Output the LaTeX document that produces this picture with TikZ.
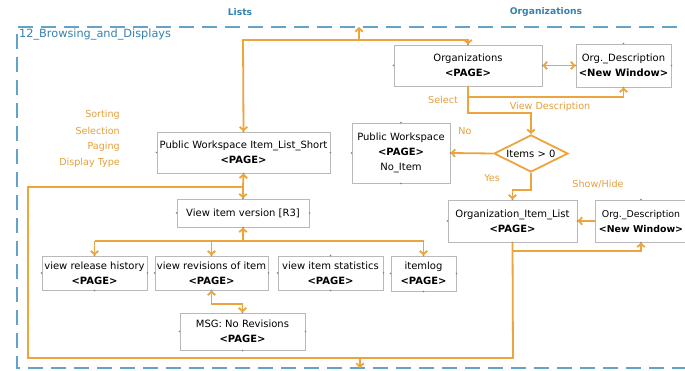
\documentclass[tikz,border=0pt]{standalone}
\usepackage{fontspec}
\setmainfont{DejaVu Sans}
\usetikzlibrary{arrows.meta,shapes.geometric}
\definecolor{ora}{RGB}{236,165,60}
\definecolor{lab}{RGB}{228,160,62}
\definecolor{frm}{RGB}{100,162,198}
\definecolor{ttl}{RGB}{55,130,175}
\definecolor{bdr}{RGB}{185,185,185}
\begin{document}
\begin{tikzpicture}[x=1pt,y=-1pt,
  font=\fontsize{10}{15}\selectfont,
  box/.style={draw=bdr, line width=0.9pt, fill=white, align=center, inner sep=1pt},
  con/.style={draw=ora, line width=1.8pt},
  arr/.style={con, -{Straight Barb[length=3.5pt,width=7.5pt]}},
  darr/.style={con, {Straight Barb[length=3.5pt,width=7.5pt]}-{Straight Barb[length=3.5pt,width=7.5pt]}},
  lbl/.style={text=lab, font=\fontsize{9.6}{10}\selectfont, inner sep=0pt},
  hdr/.style={text=ttl, font=\fontsize{9.2}{10}\bfseries\selectfont, inner sep=0pt}]
\useasboundingbox (0,0) rectangle (685,371);
\fill[white] (0,0) rectangle (685,371);
% frame
\draw[frm, line width=1.6pt, dash pattern=on 15pt off 8pt] (700,27) -- (17,27) -- (17,368) -- (700,368);
\node[hdr] (hlists) at (240,12) {Lists};
\node[hdr] (horgs) at (546,12) {Organizations};
\node[text=ttl, anchor=west, inner sep=0pt, font=\fontsize{11.3}{12}\selectfont] (title) at (19,35) {12\_Browsing\_and\_Displays};
% boxes
\node[box, minimum width=148pt, minimum height=41pt] (org) at (468,65.5) {Organizations\\\textbf{<PAGE>}};
\node[box, minimum width=95pt, minimum height=43pt] (orgdesc) at (623.5,65.5) {Org.\_Description\\\textbf{<New Window>}};
\node[box, minimum width=98pt, minimum height=60pt] (nopage) at (401,153) {Public Workspace\\\textbf{<PAGE>}\\No\_Item};
\node[draw=ora, line width=1.8pt, diamond, aspect=2, inner sep=0pt, minimum width=74pt, minimum height=37pt, fill=white] (dia) at (531,153.5) {Items > 0};
\node[box, minimum width=173pt, minimum height=41pt] (short) at (243.5,152.5) {Public Workspace Item\_List\_Short\\\textbf{<PAGE>}};
\node[box, minimum width=129pt, minimum height=42pt] (oil) at (512.5,221) {Organization\_Item\_List\\\textbf{<PAGE>}};
\node[box, minimum width=92pt, minimum height=42pt, font=\fontsize{9.4}{15}\selectfont] (orgdesc2) at (641,221) {Org.\_Description\\\textbf{<New Window>}};
\node[box, minimum width=132pt, minimum height=28pt] (viv) at (243,213) {View item version [R3]};
\node[box, minimum width=105pt, minimum height=34pt] (vrh) at (94.5,273) {view release history\\\textbf{<PAGE>}};
\node[box, minimum width=113pt, minimum height=34pt] (vri) at (211.5,273) {view revisions of item\\\textbf{<PAGE>}};
\node[box, minimum width=105pt, minimum height=34pt] (vis) at (330.5,273) {view item statistics\\\textbf{<PAGE>}};
\node[box, minimum width=65pt, minimum height=35pt] (ilog) at (423.5,273.5) {itemlog\\\textbf{<PAGE>}};
\node[box, minimum width=125pt, minimum height=37pt] (msg) at (242.5,331.5) {MSG: No Revisions\\\textbf{<PAGE>}};
% edge markers
\foreach \n in {org,orgdesc,nopage,short,oil,orgdesc2,viv,vrh,vri,vis,ilog,msg}
  \foreach \a in {north,south,east,west}
    \fill[gray] (\n.\a) circle (0.9pt);
% coordinates
\coordinate (topj) at (243,40);
\coordinate (ftop) at (359,27);
\coordinate (j1) at (468,97);
\coordinate (j2) at (468,113);
\coordinate (j3) at (531,190);
\coordinate (j4) at (513,251);
\coordinate (bot) at (513,358);
\coordinate (fbot) at (360,368);
\coordinate (lft) at (28,358);
\coordinate (lft2) at (28,187);
\coordinate (mid) at (243,187);
\coordinate (hb) at (243,241);
\coordinate (rv) at (211.5,304);
% connectors
\draw[darr] (short.north) -- (topj) -| (org.north);
\draw[arr] (ftop |- topj) -- (ftop);
\draw[darr] (org.east) -- (orgdesc.west);
\draw[arr] (org.south) -- (j2) -| (dia.north);
\draw[arr] (j1) -| (orgdesc.south);
\draw[arr] (dia.west) -- (nopage.east);
\draw[arr] (dia.south) -- (j3) -| (oil.north);
\draw[arr] (orgdesc2.west) -- (oil.east);
\draw[arr] (oil.south |- j4) -| (orgdesc2.south);
\draw[arr] (oil.south) -- (bot) -- (lft) -- (lft2) -- (mid) -- (short.south);
\draw[arr] (fbot |- bot) -- (fbot);
\draw[arr] (mid) -- (viv.north);
\draw[arr] (hb) -- (viv.south);
\draw[con] (vrh.north |- hb) -- (ilog.north |- hb);
\draw[arr] (vrh.north |- hb) -- (vrh.north);
\draw[arr] (vri.north |- hb) -- (vri.north);
\draw[arr] (ilog.north |- hb) -- (ilog.north);
\draw[darr] (vri.south) -- (rv) -| (msg.north);
% labels
\node[lbl, anchor=east] (ls1) at (120,115) {Sorting};
\node[lbl, anchor=east] (ls2) at (120,131) {Selection};
\node[lbl, anchor=east] (ls3) at (120,147) {Paging};
\node[lbl, anchor=east] (ls4) at (120,163) {Display Type};
\node[lbl] (lsel) at (443,100) {Select};
\node[lbl] (lvd) at (550,107) {View Description};
\node[lbl] (lno) at (465,131) {No};
\node[lbl] (lyes) at (492,178) {Yes};
\node[lbl] (lsh) at (598,184) {Show/Hide};
\end{tikzpicture}
\end{document}
